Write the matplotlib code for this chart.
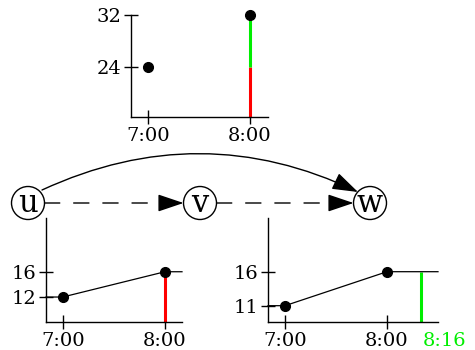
import matplotlib
matplotlib.use("Agg")
import matplotlib.pyplot as plt
from matplotlib.patches import Circle, FancyArrowPatch

plt.rcParams['font.family'] = ['DejaVu Serif']
plt.rcParams['font.size'] = 14

W, H = 475, 350

# data (times in minutes after 7:00)
tick_times = [0, 60]
tick_labels = ["7:00", "8:00"]

top_times = [0, 60]
top_vals = [24, 32]
top_split = 24          # red below, green above

left_times = [0, 60]
left_vals = [12, 16]

right_times = [0, 60]
right_vals = [11, 16]
right_mark = 80
right_mark_label = "8:16"

nodes = ["u", "v", "w"]


def px_axes(fig, left, top, right, bottom):
    return fig.add_axes([left / W, 1 - bottom / H, (right - left) / W, (bottom - top) / H])


def style(ax, yticks):
    for s in ["top", "right"]:
        ax.spines[s].set_visible(False)
    for s in ["left", "bottom"]:
        ax.spines[s].set_linewidth(1.0)
    ax.set_facecolor("none")
    ax.set_xticks(tick_times)
    ax.set_xticklabels(tick_labels)
    ax.set_yticks(yticks)
    ax.tick_params(direction="inout", length=10, width=1.0, pad=2)


fig = plt.figure(figsize=(W / 100, H / 100), dpi=100)

# top chart
ax1 = px_axes(fig, 131, 15, 268, 117)
ax1.set_xlim(-10.2, 70.6)
ax1.set_ylim(16.2, 32)
style(ax1, top_vals)
ax1.vlines(top_times[1], 16.2, top_split, color="#ff0000", lw=2.2, zorder=2)
ax1.vlines(top_times[1], top_split, top_vals[1], color="#00ee00", lw=2.2, zorder=2)
ax1.plot(top_times, top_vals, "o", color="black", ms=7, clip_on=False, zorder=3)

# bottom-left chart
ax2 = px_axes(fig, 46, 218, 182, 322)
ax2.set_xlim(-9.8, 70)
ax2.set_ylim(8.05, 24.5)
style(ax2, sorted(left_vals))
ax2.vlines(left_times[1], 8.05, left_vals[1], color="#ff0000", lw=2.2, zorder=2)
ax2.plot([-9.8] + left_times + [70], [left_vals[0]] + left_vals + [left_vals[-1]],
         color="black", lw=0.9, clip_on=False, zorder=2)
ax2.plot(left_times, left_vals, "o", color="black", ms=7, zorder=3)

# bottom-right chart
ax3 = px_axes(fig, 268, 218, 438, 322)
ax3.set_xlim(-10, 90)
ax3.set_ylim(8.6, 23.9)
style(ax3, sorted(right_vals))
ax3.vlines(right_mark, 8.6, right_vals[1], color="#00ee00", lw=2.2, zorder=2)
ax3.plot([-10] + right_times + [90], [right_vals[0]] + right_vals + [right_vals[-1]],
         color="black", lw=0.9, clip_on=False, zorder=2)
ax3.plot(right_times, right_vals, "o", color="black", ms=7, zorder=3)
ax3.annotate(right_mark_label, xy=(right_mark, 0), xycoords=("data", "axes fraction"),
             xytext=(1, -7), textcoords="offset points", ha="left", va="top",
             color="#00ee00")

# graph overlay in pixel coordinates
ov = fig.add_axes([0, 0, 1, 1])
ov.set_xlim(0, W)
ov.set_ylim(H, 0)
ov.axis("off")
ov.patch.set_visible(False)

centers = [(28, 203), (200, 203), (370, 203)]
r = 16.5
for name, (cx, cy) in zip(nodes, centers):
    ov.add_patch(Circle((cx, cy), r, facecolor="white", edgecolor="black", lw=1.0, zorder=3))
    ov.text(cx, cy + 8.5, name, ha="center", va="baseline", fontsize=22, zorder=4)

head = "-|>,head_length=0.8,head_width=0.27"
for (x1, y1), (x2, y2) in zip(centers[:-1], centers[1:]):
    start = x1 + r
    tip = x2 - r
    ov.add_patch(FancyArrowPatch((start, y1), (tip - 21, y2), arrowstyle="-",
                                 linestyle=(0, (11, 10)), lw=1.0, color="black",
                                 shrinkA=0, shrinkB=0, zorder=2))
    ov.add_patch(FancyArrowPatch((tip - 22, y2), (tip, y2), arrowstyle=head,
                                 mutation_scale=20, lw=1.0, color="black",
                                 shrinkA=0, shrinkB=0, zorder=2))

ov.add_patch(FancyArrowPatch((42, 190), (358, 192), arrowstyle=head,
                             connectionstyle="arc3,rad=-0.235", mutation_scale=20,
                             lw=1.0, color="black", shrinkA=0, shrinkB=0, zorder=2))

fig.savefig("out.png", dpi=100)
